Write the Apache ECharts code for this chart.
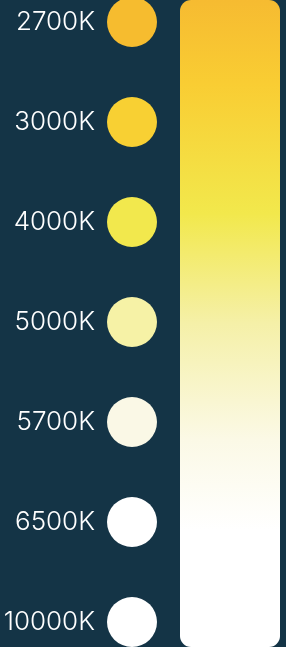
<!DOCTYPE html>
<html>
<head>
<meta charset="utf-8">
<script src="https://cdn.jsdelivr.net/npm/echarts@6/dist/echarts.min.js"></script>
<style>
  html, body { margin: 0; padding: 0; background: #143446; }
  .main { width: 286px; height: 647px; }
</style>
</head>
<body>
<div class="main"></div>
<script>
var temps = ['2700K', '3000K', '4000K', '5000K', '5700K', '6500K', '10000K'];
var dotColors = ['#f6bc2f', '#f8d033', '#f2e84d', '#f6f2a6', '#faf8e6', '#ffffff', '#ffffff'];
var barValue = [1];
var gradStops = [0, 0.13, 0.33, 0.5, 0.68, 0.82, 1];
var gradColors = ['#f6bb31', '#f9cd33', '#f2e84c', '#f5f0a8', '#fbf9e6', '#ffffff', '#ffffff'];

var myChart = echarts.init(document.querySelector('.main'));

var dots = temps.map(function (t, i) {
  return {
    value: ['K', t],
    itemStyle: { color: dotColors[i], opacity: 1 }
  };
});

var option = {
  backgroundColor: '#143446',
  animation: false,
  grid: [
    { left: 107, width: 50, top: 22, bottom: 25 },
    { left: 180, width: 100, top: 0, bottom: 0 }
  ],
  xAxis: [
    { gridIndex: 0, type: 'category', data: ['K'], show: false },
    { gridIndex: 1, type: 'category', data: ['bar'], show: false }
  ],
  yAxis: [
    {
      gridIndex: 0,
      type: 'category',
      data: temps,
      inverse: true,
      boundaryGap: false,
      axisLine: { show: false },
      axisTick: { show: false },
      splitLine: { show: false },
      axisLabel: {
        color: '#ffffff',
        fontFamily: 'Inter',
        fontWeight: 300,
        fontSize: 26,
        margin: 12
      }
    },
    { gridIndex: 1, type: 'value', min: 0, max: 1, show: false }
  ],
  series: [
    {
      type: 'scatter',
      xAxisIndex: 0,
      yAxisIndex: 0,
      symbolSize: 50,
      itemStyle: { opacity: 1 },
      data: dots
    },
    {
      type: 'bar',
      xAxisIndex: 1,
      yAxisIndex: 1,
      barWidth: '100%',
      data: barValue,
      itemStyle: {
        borderRadius: 11,
        color: new echarts.graphic.LinearGradient(0, 0, 0, 1,
          gradStops.map(function (s, i) { return { offset: s, color: gradColors[i] }; }))
      }
    }
  ]
};
myChart.setOption(option);
</script>
</body>
</html>
